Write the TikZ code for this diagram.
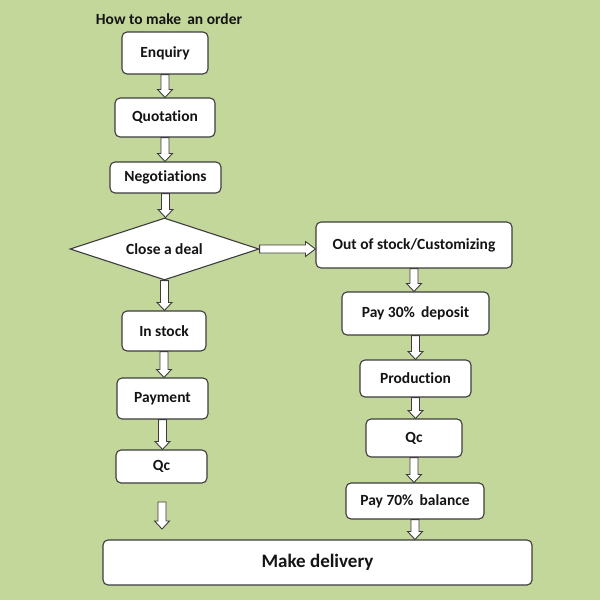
\documentclass[tikz,border=0pt]{standalone}
\usepackage{fontspec}
\setmainfont[Ligatures=NoCommon]{Carlito}
\usetikzlibrary{shapes.geometric,calc}
\definecolor{bgc}{HTML}{C4D79B}
\definecolor{linec}{HTML}{3C3C3C}
\definecolor{txtc}{HTML}{141414}
\tikzset{
  lbl/.style={text=txtc, font=\fontsize{15.5}{17}\selectfont\bfseries},
  box/.style={lbl, draw=linec, fill=white, line width=1.1pt, rounded corners=5pt, inner sep=0pt},
  vblock/.style={draw=linec, fill=white, line width=0.9pt, line join=miter,
    to path={let \p1=(\tikztostart), \p2=(\tikztotarget) in
      (\x1-4pt,\y1) -- (\x1+4pt,\y1) -- (\x1+4pt,\y2+8pt) -- (\x1+7.5pt,\y2+8pt) -- (\x1,\y2)
      -- (\x1-7.5pt,\y2+8pt) -- (\x1-4pt,\y2+8pt) -- cycle}},
  hblock/.style={draw=linec, fill=white, line width=0.9pt, line join=miter,
    to path={let \p1=(\tikztostart), \p2=(\tikztotarget) in
      (\x1,\y1-4pt) -- (\x2-10pt,\y1-4pt) -- (\x2-10pt,\y1-7.5pt) -- (\x2,\y1)
      -- (\x2-10pt,\y1+7.5pt) -- (\x2-10pt,\y1+4pt) -- (\x1,\y1+4pt) -- cycle}}
}
\begin{document}
\begin{tikzpicture}[x=1pt,y=-1pt]
\fill[bgc] (0,0) rectangle (600,600);
\useasboundingbox (0,0) rectangle (600,600);

\node[lbl] (title) at (169,19) {How to make\, an order};

\node[box, minimum width=86pt, minimum height=42pt] (enq) at (165,53) {Enquiry};
\node[box, minimum width=100pt, minimum height=39pt] (quo) at (165,117.5) {Quotation};
\node[box, minimum width=111pt, minimum height=31pt] (neg) at (165.5,177.5) {Negotiations};
\node[lbl, draw=linec, fill=white, line width=1.1pt, diamond, aspect=3, inner sep=0pt,
  minimum width=189pt, minimum height=62pt] (deal) at (164.5,249) {Close a deal};

\node[box, minimum width=196pt, minimum height=46pt] (oos) at (414,245) {Out of stock/Customizing};
\node[box, minimum width=147pt, minimum height=43pt] (p30) at (415.5,313.5) {Pay 30\%\, deposit};
\node[box, minimum width=111pt, minimum height=37pt] (prod) at (415.5,378.5) {Production};
\node[box, minimum width=96pt, minimum height=38pt] (qcr) at (414,438) {Qc};
\node[box, minimum width=138pt, minimum height=36pt] (p70) at (415,501) {Pay 70\%\, balance};

\node[box, minimum width=84pt, minimum height=40pt] (ins) at (164,331) {In stock};
\node[box, minimum width=91pt, minimum height=41pt] (pay) at (162.5,398.5) {Payment};
\node[box, minimum width=91pt, minimum height=33pt] (qcl) at (161.5,466.5) {Qc};

\node[box, minimum width=429pt, minimum height=45pt, font=\fontsize{19}{21}\selectfont\bfseries] (md) at (317.5,562.5) {Make delivery};

\coordinate (fa1) at (162,502);
\coordinate (fa2) at (162,529);

\draw[vblock] (enq.south) to (quo.north);
\draw[vblock] (quo.south) to (neg.north);
\draw[vblock] (neg.south) to (deal.north);
\draw[vblock] (deal.south) to (ins.north);
\draw[vblock] (ins.south) to (pay.north);
\draw[vblock] (pay.south) to (qcl.north);
\draw[vblock] (fa1) to (fa2);
\draw[hblock] (deal.east) to (oos.west);
\draw[vblock] (oos.south) to (p30.north);
\draw[vblock] (p30.south) to (prod.north);
\draw[vblock] (prod.south) to (qcr.north);
\draw[vblock] (qcr.south) to (p70.north);
\draw[vblock] (p70.south) to (p70.south |- md.north);
\end{tikzpicture}
\end{document}
